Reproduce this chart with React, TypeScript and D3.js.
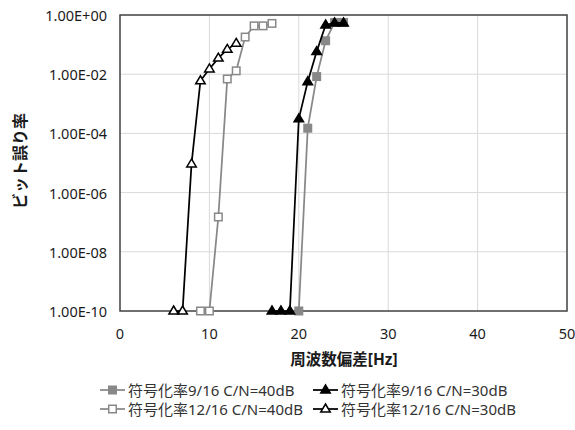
import React from "react";
import * as d3 from "d3";

const W = 575;
const H = 430;

const xTicks = [0, 10, 20, 30, 40, 50];
const yTicks = [1, 1e-2, 1e-4, 1e-6, 1e-8, 1e-10];
const yTickLabels = ["1.00E+00", "1.00E-02", "1.00E-04", "1.00E-06", "1.00E-08", "1.00E-10"];

const s1Name = "符号化率9/16 C/N=40dB";
const s1X = [20, 21, 22, 23, 24, 25];
const s1Y = [1e-10, 1.5e-4, 8.3e-3, 0.135, 0.56, 0.56];

const s2Name = "符号化率9/16 C/N=30dB";
const s2X = [17, 18, 19, 20, 21, 22, 23, 24, 25];
const s2Y = [1e-10, 1e-10, 1e-10, 3.1e-4, 5.6e-3, 5.8e-2, 0.46, 0.54, 0.54];

const s3Name = "符号化率12/16 C/N=40dB";
const s3X = [9, 10, 11, 12, 13, 14, 15, 16, 17];
const s3Y = [1e-10, 1e-10, 1.5e-7, 6.9e-3, 1.3e-2, 0.18, 0.43, 0.43, 0.52];

const s4Name = "符号化率12/16 C/N=30dB";
const s4X = [6, 7, 8, 9, 10, 11, 12, 13];
const s4Y = [1e-10, 1e-10, 9.3e-6, 6e-3, 1.5e-2, 3.5e-2, 6.9e-2, 0.11];

const GRAY = "#888888";
const BLACK = "#000000";

type Series = { name: string; xs: number[]; ys: number[]; color: string; marker: "sqFill" | "triFill" | "sqOpen" | "triOpen" };

const series: Series[] = [
  { name: s1Name, xs: s1X, ys: s1Y, color: GRAY, marker: "sqFill" },
  { name: s2Name, xs: s2X, ys: s2Y, color: BLACK, marker: "triFill" },
  { name: s3Name, xs: s3X, ys: s3Y, color: GRAY, marker: "sqOpen" },
  { name: s4Name, xs: s4X, ys: s4Y, color: BLACK, marker: "triOpen" },
];

const FONT = "'Noto Sans', 'Noto Sans CJK JP', sans-serif";

function Marker({ type, x, y, color }: { type: Series["marker"]; x: number; y: number; color: string }) {
  if (type === "sqFill" || type === "sqOpen") {
    const s = 7.5;
    return (
      <rect
        x={x - s / 2}
        y={y - s / 2}
        width={s}
        height={s}
        fill={type === "sqFill" ? color : "#fff"}
        stroke={color}
        strokeWidth={1.5}
      />
    );
  }
  const r = 5;
  const pts = [
    [x, y - r],
    [x + r * 0.95, y + r * 0.6],
    [x - r * 0.95, y + r * 0.6],
  ]
    .map((p) => p.join(","))
    .join(" ");
  return <polygon points={pts} fill={type === "triFill" ? color : "#fff"} stroke={color} strokeWidth={1.5} />;
}

export default function App() {
  const left = 120;
  const right = 567;
  const top = 15;
  const bottom = 311;

  const x = d3.scaleLinear().domain([0, 50]).range([left, right]);
  const y = d3.scaleLog().domain([1e-10, 1]).range([bottom, top]);

  const line = d3
    .line<[number, number]>()
    .x((d) => x(d[0]))
    .y((d) => y(d[1]));

  const legendItems = [
    { s: series[0], lx: 100, ly: 390 },
    { s: series[1], lx: 313, ly: 390 },
    { s: series[2], lx: 100, ly: 409 },
    { s: series[3], lx: 313, ly: 409 },
  ];

  return (
    <svg width={W} height={H} style={{ position: "absolute", left: 0, top: 0, background: "#fff" }} fontFamily={FONT}>
      <rect x={0} y={0} width={W} height={H} fill="#fff" />
      {/* grid */}
      {xTicks.slice(1, -1).map((t) => (
        <line key={"gx" + t} x1={x(t)} x2={x(t)} y1={top} y2={bottom} stroke="#d9d9d9" strokeWidth={1} />
      ))}
      {yTicks.slice(1, -1).map((t) => (
        <line key={"gy" + t} x1={left} x2={right} y1={y(t)} y2={y(t)} stroke="#d9d9d9" strokeWidth={1} />
      ))}
      {/* frame */}
      <rect x={left} y={top} width={right - left} height={bottom - top} fill="none" stroke="#404040" strokeWidth={1.5} />

      {/* tick labels */}
      {yTicks.map((t, i) => (
        <text key={"yl" + i} x={107} y={y(t)} textAnchor="end" dominantBaseline="central" fontSize={14.5} fill="#1a1a1a">
          {yTickLabels[i]}
        </text>
      ))}
      {xTicks.map((t) => (
        <text key={"xl" + t} x={x(t)} y={333} textAnchor="middle" dominantBaseline="central" fontSize={14.5} fill="#1a1a1a">
          {t}
        </text>
      ))}

      {/* axis titles */}
      <text x={344} y={359} textAnchor="middle" dominantBaseline="central" fontSize={15.5} fontWeight="bold" fill="#1a1a1a">
        周波数偏差[Hz]
      </text>
      <text
        transform={`translate(20,161) rotate(-90)`}
        textAnchor="middle"
        dominantBaseline="central"
        fontSize={16}
        fontWeight="bold"
        fill="#1a1a1a"
      >
        ビット誤り率
      </text>

      {/* series */}
      {series.map((s, si) => {
        const pts = s.xs.map((v, i) => [v, s.ys[i]] as [number, number]);
        return (
          <g key={"s" + si}>
            <path d={line(pts) || ""} fill="none" stroke={s.color} strokeWidth={1.75} />
            {pts.map((p, i) => (
              <Marker key={i} type={s.marker} x={x(p[0])} y={y(p[1])} color={s.color} />
            ))}
          </g>
        );
      })}

      {/* legend */}
      {legendItems.map((li, i) => (
        <g key={"lg" + i}>
          <line x1={li.lx} x2={li.lx + 25} y1={li.ly} y2={li.ly} stroke={li.s.color} strokeWidth={1.75} />
          <Marker type={li.s.marker} x={li.lx + 12.5} y={li.ly} color={li.s.color} />
          <text x={li.lx + 28} y={li.ly} dominantBaseline="central" fontSize={15} fill="#333">
            {li.s.name}
          </text>
        </g>
      ))}
    </svg>
  );
}
